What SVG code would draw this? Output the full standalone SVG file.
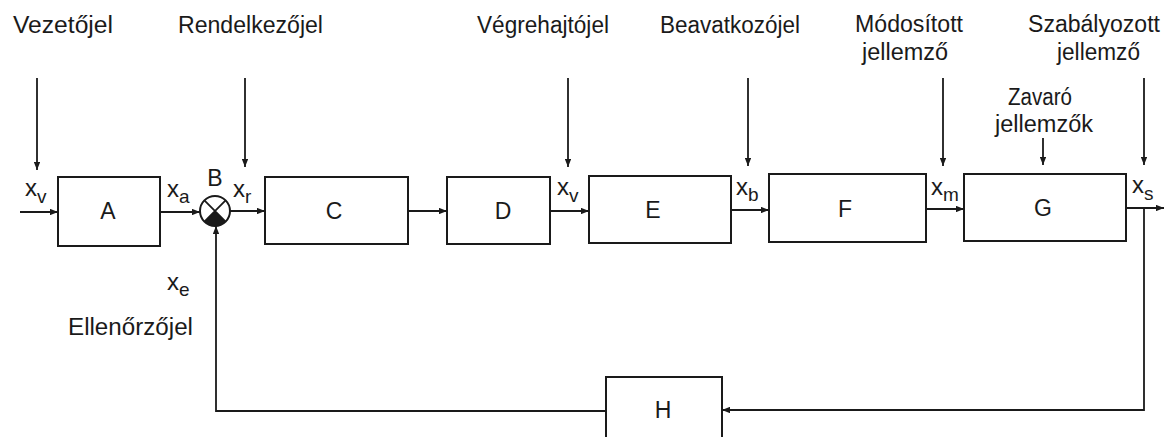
<svg xmlns="http://www.w3.org/2000/svg" width="1165" height="437" viewBox="0 0 1165 437">
<defs>
<style>
.lbl{font-family:"Liberation Sans",Arial,sans-serif;font-size:23px;fill:#1a1a1a}
.blk{font-family:"Liberation Sans",Arial,sans-serif;font-size:23px;fill:#1a1a1a;text-anchor:middle}
.var{font-family:"Liberation Sans",Arial,sans-serif;font-size:24px;fill:#1a1a1a}
.sub{font-size:19px}
.box{fill:none;stroke:#1a1a1a;stroke-width:2}
.ln{fill:none;stroke:#1a1a1a;stroke-width:1.8}
.arr{fill:none;stroke:#1a1a1a;stroke-width:1.8;marker-end:url(#ah)}
</style>
<marker id="ah" viewBox="0 0 10 8" refX="10" refY="4" markerWidth="8" markerHeight="6.5" markerUnits="userSpaceOnUse" orient="auto">
<path d="M0,0 L10,4 L0,8 Z" fill="#1a1a1a"/>
</marker>
</defs>
<rect width="1165" height="437" fill="#ffffff"/>

<g id="labels">
<text class="lbl" x="13" y="33" textLength="100" lengthAdjust="spacingAndGlyphs">Vezetőjel</text>
<text class="lbl" x="178" y="33" textLength="145" lengthAdjust="spacingAndGlyphs">Rendelkezőjel</text>
<text class="lbl" x="477" y="33" textLength="132" lengthAdjust="spacingAndGlyphs">Végrehajtójel</text>
<text class="lbl" x="660" y="33" textLength="140" lengthAdjust="spacingAndGlyphs">Beavatkozójel</text>
<text class="lbl" x="855" y="32" textLength="108" lengthAdjust="spacingAndGlyphs">Módosított</text>
<text class="lbl" x="862" y="60" textLength="86" lengthAdjust="spacingAndGlyphs">jellemző</text>
<text class="lbl" x="1028" y="32" textLength="132" lengthAdjust="spacingAndGlyphs">Szabályozott</text>
<text class="lbl" x="1057" y="60" textLength="83" lengthAdjust="spacingAndGlyphs">jellemző</text>
<text class="lbl" x="1008" y="105" textLength="64" lengthAdjust="spacingAndGlyphs">Zavaró</text>
<text class="lbl" x="995" y="132" textLength="98" lengthAdjust="spacingAndGlyphs">jellemzők</text>
<text class="lbl" x="68" y="335" textLength="125" lengthAdjust="spacingAndGlyphs">Ellenőrzőjel</text>
</g>

<g id="signals">
<text class="var" x="25" y="196">x<tspan class="sub" dy="7">v</tspan></text>
<text class="var" x="167" y="197">x<tspan class="sub" dy="6">a</tspan></text>
<text class="var" x="233" y="197">x<tspan class="sub" dy="6">r</tspan></text>
<text class="var" x="557" y="195">x<tspan class="sub" dy="7">v</tspan></text>
<text class="var" x="736" y="195">x<tspan class="sub" dy="6">b</tspan></text>
<text class="var" x="931" y="195">x<tspan class="sub" dy="6">m</tspan></text>
<text class="var" x="1132" y="193">x<tspan class="sub" dy="7">s</tspan></text>
<text class="var" x="167" y="290">x<tspan class="sub" dy="6">e</tspan></text>
</g>

<g id="node-A"><rect class="box" x="58" y="177" width="102" height="69"/><text class="blk" x="108" y="219">A</text></g>
<g id="node-B">
<circle cx="215" cy="211" r="15" fill="#fff" stroke="#1a1a1a" stroke-width="2"/>
<path d="M215,211 L225.6,221.6 A15,15 0 0 1 204.4,221.6 Z" fill="#1a1a1a"/>
<path class="ln" d="M204.4,200.4 L225.6,221.6 M225.6,200.4 L204.4,221.6"/>
<text class="blk" x="215" y="186">B</text>
</g>
<g id="node-C"><rect class="box" x="265" y="177" width="143" height="67"/><text class="blk" x="334" y="219">C</text></g>
<g id="node-D"><rect class="box" x="447" y="177" width="103" height="67"/><text class="blk" x="503" y="219">D</text></g>
<g id="node-E"><rect class="box" x="589" y="176" width="142" height="67"/><text class="blk" x="653" y="218">E</text></g>
<g id="node-F"><rect class="box" x="769" y="174" width="157" height="68"/><text class="blk" x="845" y="217">F</text></g>
<g id="node-G"><rect class="box" x="964" y="174" width="162" height="67"/><text class="blk" x="1043" y="216">G</text></g>
<g id="node-H"><rect class="box" x="606" y="377" width="116" height="80"/><text class="blk" x="663" y="418">H</text></g>

<g id="connectors">
<path class="arr" d="M37,78 V170"/>
<path class="arr" d="M245,78 V167"/>
<path class="arr" d="M568,78 V167"/>
<path class="arr" d="M748,78 V166"/>
<path class="arr" d="M943,78 V166"/>
<path class="arr" d="M1043,138 V165"/>
<path class="arr" d="M1144,78 V165"/>
<path class="arr" d="M20,212 H58"/>
<path class="arr" d="M160,212 H200"/>
<path class="arr" d="M230,211 H265"/>
<path class="arr" d="M408,211 H447"/>
<path class="arr" d="M550,211 H589"/>
<path class="arr" d="M731,210 H769"/>
<path class="arr" d="M926,209 H964"/>
<path class="arr" d="M1126,208 H1164"/>
<path class="arr" d="M1144,208 V410 H722"/>
<path class="arr" d="M606,411 H216 V226"/>
</g>
</svg>
